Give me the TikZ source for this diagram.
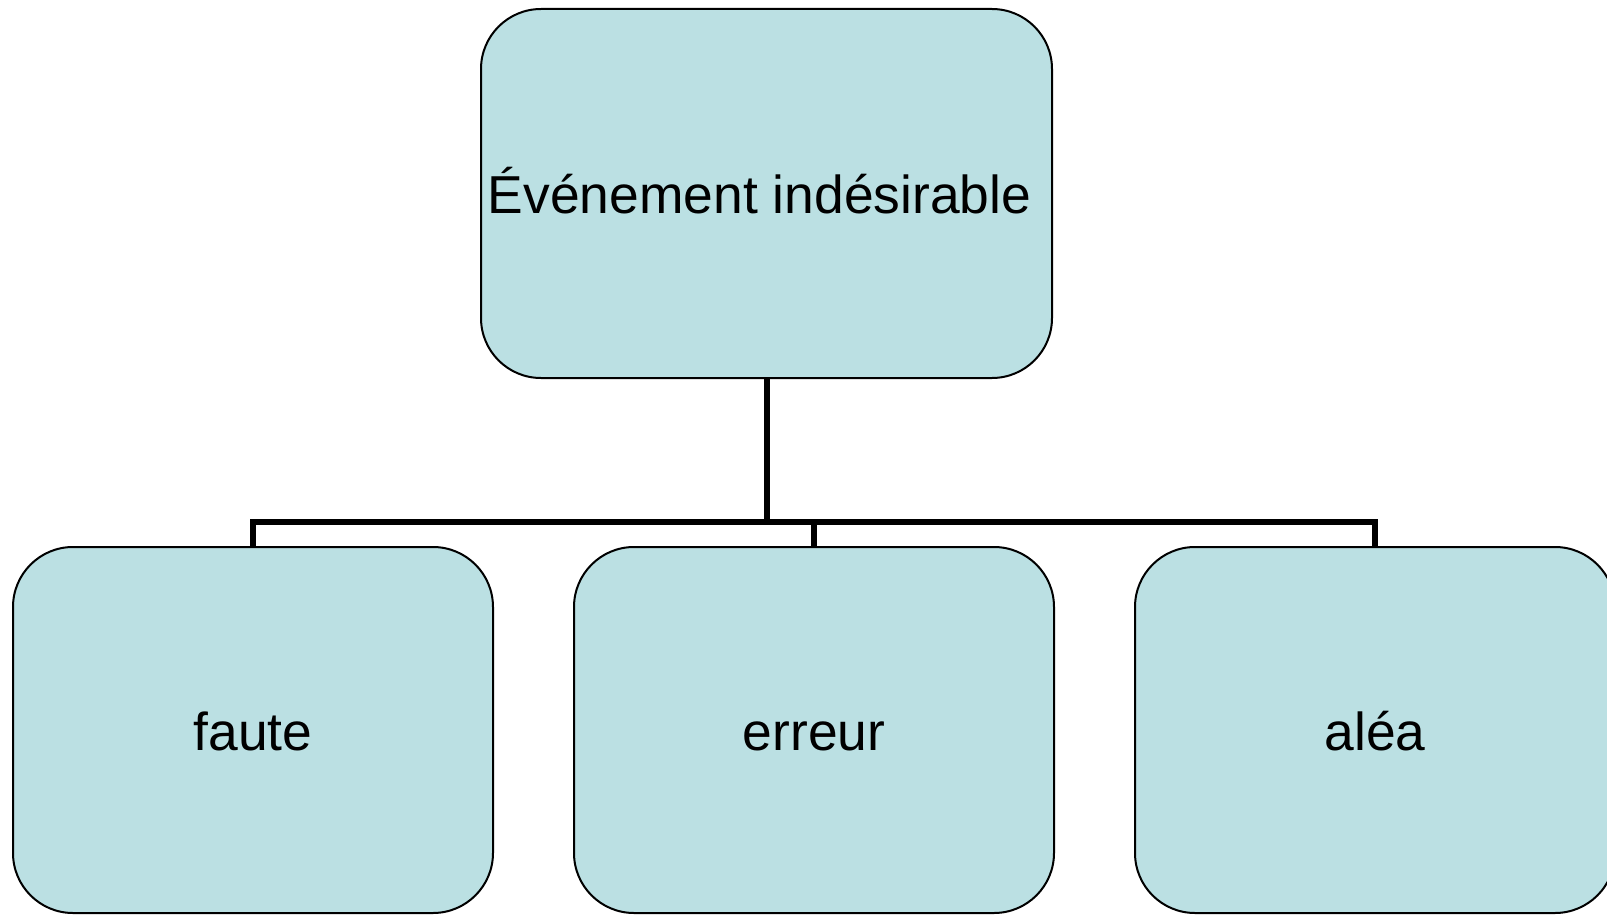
\documentclass[tikz,border=0pt]{standalone}
\usepackage{fontspec}
\setmainfont{Liberation Sans}
\definecolor{boxfill}{RGB}{187,224,227}
\begin{document}
\begin{tikzpicture}[x=1pt,y=-1pt,
  box/.style={draw=black, line width=2pt, fill=boxfill, rounded corners=60pt,
    inner sep=0pt, font=\fontsize{53.4}{64}\selectfont},
  topbox/.style={box, minimum width=571pt, minimum height=369pt,
    text height=49.6pt, text depth=10pt},
  leafbox/.style={box, minimum width=480pt, minimum height=366pt,
    text height=51.4pt, text depth=10pt},
  conn/.style={draw=black, line width=6pt}]
  \useasboundingbox (0,0) rectangle (1607,915);

  \node[topbox] (top) at (766.5,193.5) {Événement indésirable\kern14pt};
  \node[leafbox] (faute) at (253,730) {faute};
  \node[leafbox] (erreur) at (814,730) {erreur};
  \node[leafbox] (alea) at (1375,730) {aléa};

  \coordinate (j) at (767,521.7);

  \draw[conn] (top.south) -- (top.south |- j);
  \draw[conn] (faute.north) -- (faute.north |- j) -| (alea.north);
  \draw[conn] (erreur.north) -- (erreur.north |- j);
\end{tikzpicture}
\end{document}
